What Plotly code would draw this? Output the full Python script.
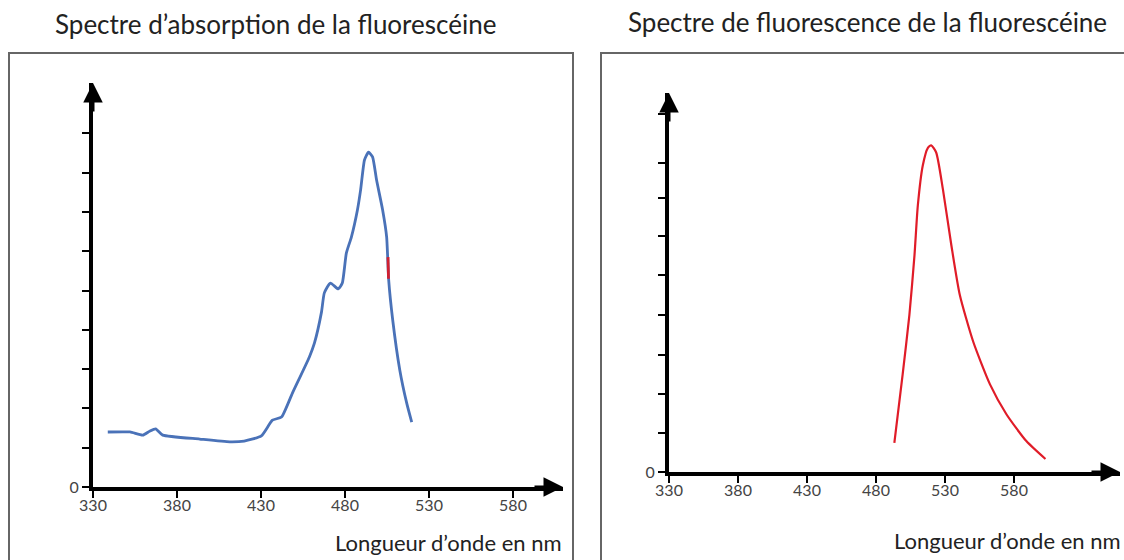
import plotly.graph_objects as go

# ---- data ----
abs_nm = [338.8, 352, 359.6, 363.7, 367.3, 371.5, 393.5, 411.4, 420, 430.2, 436.8, 442.2,
          448.7, 458.8, 461.8, 466, 467.7, 471.3, 476, 478.4, 480.8, 483.8, 487.4, 489.3,
          491.6, 494, 496.4, 498.8, 502.4, 504.8, 506, 508.4, 512.6, 516.7, 519.7]
abs_val = [1.40, 1.40, 1.32, 1.42, 1.48, 1.32, 1.22, 1.15, 1.17, 1.30, 1.70, 1.78,
           2.39, 3.31, 3.66, 4.45, 4.94, 5.19, 5.04, 5.19, 5.95, 6.36, 7.05, 7.56,
           8.32, 8.52, 8.40, 7.81, 7.05, 6.36, 5.27, 4.25, 2.98, 2.14, 1.65]
mark_nm = [505.6, 505.9]
mark_val = [5.85, 5.3]

fluo_nm = [493.3, 499.3, 504.2, 507.9, 510.3, 513.9, 517.6, 520, 523.6, 528.5, 534.6,
           540.7, 550.4, 562.6, 574.5, 589.1, 602.8]
fluo_val = [0.74, 2.48, 4.0, 5.52, 6.78, 7.80, 8.25, 8.31, 8.13, 7.19, 5.77,
            4.51, 3.32, 2.23, 1.47, 0.78, 0.33]

x_ticks = [330, 380, 430, 480, 530, 580]
y_ticks_left = [0, 1, 2, 3, 4, 5, 6, 7, 8, 9]
y_ticks_right = [0, 0.99, 1.98, 2.98, 4.0, 5.01, 6.0, 6.97, 7.86, 9.1]
y_ticktext = ["0", "", "", "", "", "", "", "", "", ""]

title_left = "Spectre d’absorption de la fluorescéine"
title_right = "Spectre de fluorescence de la fluorescéine"
x_label = "Longueur d’onde en nm"

W, H = 1124, 560
FONT = "Lato, 'Open Sans', sans-serif"

fig = go.Figure()
fig.add_trace(go.Scatter(x=abs_nm, y=abs_val, mode="lines", xaxis="x", yaxis="y",
                         line=dict(color="#4a72b8", width=2.8, shape="spline", smoothing=0.5),
                         hoverinfo="skip", showlegend=False))
fig.add_trace(go.Scatter(x=mark_nm, y=mark_val, mode="lines", xaxis="x", yaxis="y",
                         line=dict(color="#d02030", width=2.8),
                         hoverinfo="skip", showlegend=False))
fig.add_trace(go.Scatter(x=fluo_nm, y=fluo_val, mode="lines", xaxis="x2", yaxis="y2",
                         line=dict(color="#e01c28", width=2.2, shape="spline", smoothing=0.6),
                         hoverinfo="skip", showlegend=False))

def px_x(p):
    return p / W

def px_y(p):
    return 1 - p / H

axis_common = dict(showgrid=False, zeroline=False, showline=True, linecolor="black",
                   ticks="outside", tickcolor="black", fixedrange=True, automargin=False,
                   tickfont=dict(size=16, color="#444", family=FONT))

fig.update_layout(
    template="none",
    width=W, height=H,
    margin=dict(l=0, r=0, t=0, b=0, pad=0),
    paper_bgcolor="white", plot_bgcolor="rgba(0,0,0,0)",
    font=dict(family=FONT, color="#333"),
    xaxis=dict(domain=[px_x(93), px_x(563)], range=[330, 330 + (563 - 93) / 1.68],
               tickvals=x_ticks, linewidth=3.5, ticklen=7, tickwidth=2,
               ticklabelstandoff=-6, anchor="y", **axis_common),
    yaxis=dict(domain=[px_y(487), px_y(83)], range=[0, (487 - 83) / 39.3],
               tickvals=y_ticks_left, ticktext=y_ticktext, linewidth=4, ticklen=7, tickwidth=2,
               anchor="x", **axis_common),
    xaxis2=dict(domain=[px_x(669), px_x(1120)], range=[330, 330 + (1120 - 669) / 1.38],
                tickvals=x_ticks, linewidth=3.5, ticklen=7, tickwidth=2,
                ticklabelstandoff=-6, anchor="y2", **axis_common),
    yaxis2=dict(domain=[px_y(472), px_y(93)], range=[0, (472 - 93) / 39.3],
                tickvals=y_ticks_right, ticktext=y_ticktext, linewidth=4, ticklen=7, tickwidth=2,
                anchor="x2", **axis_common),
)

# frames
fig.add_shape(type="rect", xref="paper", yref="paper",
              x0=px_x(9), x1=px_x(573), y0=px_y(575), y1=px_y(53),
              line=dict(color="#666", width=2), fillcolor="rgba(0,0,0,0)", layer="below")
fig.add_shape(type="rect", xref="paper", yref="paper",
              x0=px_x(601), x1=px_x(1140), y0=px_y(575), y1=px_y(53),
              line=dict(color="#666", width=2), fillcolor="rgba(0,0,0,0)", layer="below")

# arrowheads at axis ends
for xa, ya in (("x", "y"), ("x2", "y2")):
    fig.add_annotation(xref=f"{xa} domain", yref=f"{ya} domain", x=0, y=1,
                       ax=0, ay=30, showarrow=True, arrowhead=2, arrowsize=1.3,
                       arrowwidth=3, arrowcolor="black", text="")
    fig.add_annotation(xref=f"{xa} domain", yref=f"{ya} domain", x=1, y=0,
                       ax=-30, ay=0, showarrow=True, arrowhead=2, arrowsize=1.3,
                       arrowwidth=3, arrowcolor="black", text="")

# titles
fig.add_annotation(xref="paper", yref="paper", x=px_x(275), y=px_y(24), text=title_left,
                   xanchor="center", yanchor="middle",
                   showarrow=False, font=dict(size=26, color="#222", family=FONT))
fig.add_annotation(xref="paper", yref="paper", x=px_x(867), y=px_y(22), text=title_right,
                   xanchor="center", yanchor="middle",
                   showarrow=False, font=dict(size=26, color="#222", family=FONT))

# x-axis labels
fig.add_annotation(xref="paper", yref="paper", x=px_x(564), y=px_y(542), text=x_label,
                   showarrow=False, xanchor="right", yanchor="middle",
                   font=dict(size=22, color="#222", family=FONT))
fig.add_annotation(xref="paper", yref="paper", x=px_x(1123), y=px_y(540), text=x_label,
                   showarrow=False, xanchor="right", yanchor="middle",
                   font=dict(size=22, color="#222", family=FONT))

# remove the default page margin so the figure fills the window exactly
fig.write_html("out.html",
               config={"displayModeBar": False, "staticPlot": True},
               post_script="document.body.style.margin='0';document.body.style.overflow='hidden';")
